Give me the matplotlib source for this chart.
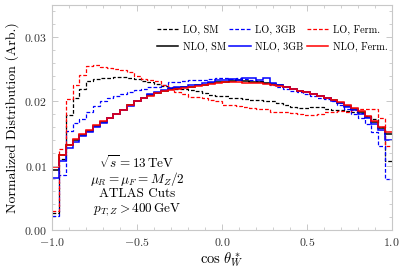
import numpy as np
import matplotlib
matplotlib.use("Agg")
import matplotlib.pyplot as plt
from matplotlib.ticker import MultipleLocator, FuncFormatter
from matplotlib.lines import Line2D

plt.rcParams['font.family'] = 'serif'
plt.rcParams['font.serif'] = ['cmr10']
plt.rcParams['mathtext.fontset'] = 'cm'
plt.rcParams['axes.formatter.use_mathtext'] = True

edges = np.linspace(-1.0, 1.0, 51)

lo_sm = [0.0026, 0.0110, 0.0179, 0.0205, 0.0220, 0.0232, 0.0235, 0.0236, 0.0237, 0.0238,
         0.0238, 0.0237, 0.0235, 0.0232, 0.0230, 0.0227, 0.0224, 0.0221, 0.0220, 0.0219,
         0.0218, 0.0216, 0.0213, 0.0210, 0.0208, 0.0208, 0.0206, 0.0205, 0.0204, 0.0203,
         0.0202, 0.0201, 0.0200, 0.0197, 0.0195, 0.0192, 0.0190, 0.0190, 0.0191, 0.0191,
         0.0189, 0.0187, 0.0186, 0.0185, 0.0184, 0.0182, 0.0178, 0.0172, 0.0160, 0.0108]

lo_3gb = [0.0021, 0.0085, 0.0154, 0.0166, 0.0173, 0.0184, 0.0193, 0.0200, 0.0205, 0.0208,
          0.0212, 0.0215, 0.0218, 0.0220, 0.0222, 0.0223, 0.0226, 0.0230, 0.0231, 0.0232,
          0.0233, 0.0233, 0.0234, 0.0235, 0.0236, 0.0236, 0.0235, 0.0236, 0.0235, 0.0234,
          0.0232, 0.0229, 0.0226, 0.0223, 0.0220, 0.0217, 0.0214, 0.0212, 0.0208, 0.0206,
          0.0204, 0.0200, 0.0195, 0.0189, 0.0180, 0.0174, 0.0165, 0.0153, 0.0131, 0.0079]

lo_ferm = [0.0030, 0.01255, 0.0204, 0.0226, 0.0241, 0.0255, 0.0256, 0.0254, 0.0252, 0.0250,
           0.0249, 0.0246, 0.0240, 0.0235, 0.0233, 0.0232, 0.0226, 0.0223, 0.0214, 0.0211,
           0.0207, 0.0207, 0.0206, 0.0202, 0.0200, 0.0195, 0.0194, 0.0193, 0.0192, 0.0190,
           0.0189, 0.0188, 0.0184, 0.0183, 0.0183, 0.0182, 0.0180, 0.0179, 0.0179, 0.0181,
           0.0184, 0.0184, 0.0185, 0.0184, 0.0186, 0.0188, 0.0188, 0.0188, 0.0174, 0.0131]

nlo_sm = [0.0093, 0.0116, 0.0132, 0.0140, 0.0148, 0.0154, 0.0162, 0.0168, 0.0175, 0.0181,
          0.0187, 0.0194, 0.0200, 0.0205, 0.0210, 0.0213, 0.0217, 0.0219, 0.0221, 0.0222,
          0.0223, 0.0225, 0.0226, 0.0228, 0.0230, 0.0231, 0.0232, 0.0233, 0.0232, 0.0231,
          0.0230, 0.0229, 0.0227, 0.0225, 0.0222, 0.0219, 0.0216, 0.0214, 0.0211, 0.0208,
          0.0205, 0.0202, 0.0198, 0.0193, 0.0188, 0.0183, 0.0176, 0.0168, 0.0159, 0.0149]

nlo_3gb = [0.0081, 0.0108, 0.0128, 0.0137, 0.0146, 0.0153, 0.0161, 0.0167, 0.0174, 0.0180,
           0.0186, 0.0193, 0.0200, 0.0206, 0.0211, 0.0214, 0.0218, 0.0221, 0.0223, 0.0223,
           0.0225, 0.0226, 0.0228, 0.0231, 0.0233, 0.0234, 0.0235, 0.0234, 0.0237, 0.0236,
           0.0233, 0.0236, 0.0228, 0.0226, 0.0223, 0.0219, 0.0216, 0.0214, 0.0211, 0.0208,
           0.0205, 0.0201, 0.0197, 0.0192, 0.0187, 0.0181, 0.0174, 0.0165, 0.0155, 0.0140]

nlo_ferm = [0.0098, 0.0117, 0.0133, 0.0141, 0.0149, 0.0155, 0.0163, 0.0169, 0.0175, 0.0181,
            0.0187, 0.0194, 0.0200, 0.0205, 0.0209, 0.0213, 0.0216, 0.0218, 0.0220, 0.0221,
            0.0222, 0.0224, 0.0225, 0.0227, 0.0229, 0.0230, 0.0230, 0.0230, 0.0229, 0.0229,
            0.0228, 0.0227, 0.0226, 0.0224, 0.0222, 0.0219, 0.0217, 0.0215, 0.0212, 0.0209,
            0.0206, 0.0203, 0.0199, 0.0195, 0.0190, 0.0185, 0.0178, 0.0170, 0.0161, 0.0152]

labels = ["LO, SM", "NLO, SM", "LO, 3GB", "NLO, 3GB", "LO, Ferm.", "NLO, Ferm."]
annot = [r"$\sqrt{s} = 13\,\mathrm{TeV}$", r"$\mu_R = \mu_F = M_Z/2$",
         "ATLAS Cuts", r"$p_{T,Z} > 400\,\mathrm{GeV}$"]

fig = plt.figure(figsize=(4.07, 2.71), dpi=100)
ax = fig.add_axes([0.1285, 0.1513, 0.8339, 0.8302])

dash = (0, (3.0, 1.6))
ax.stairs(lo_sm, edges, color='black', lw=0.9, ls=dash, baseline=None)
ax.stairs(lo_3gb, edges, color='#0000ff', lw=0.9, ls=dash, baseline=None)
ax.stairs(lo_ferm, edges, color='#ff0000', lw=0.9, ls=dash, baseline=None)
ax.stairs(nlo_sm, edges, color='black', lw=1.1, baseline=None)
ax.stairs(nlo_3gb, edges, color='#0000ff', lw=1.1, baseline=None)
ax.stairs(nlo_ferm, edges, color='#ff0000', lw=1.1, baseline=None)

handles = [Line2D([], [], color='black', lw=0.9, ls=dash),
           Line2D([], [], color='black', lw=1.1),
           Line2D([], [], color='#0000ff', lw=0.9, ls=dash),
           Line2D([], [], color='#0000ff', lw=1.1),
           Line2D([], [], color='#ff0000', lw=0.9, ls=dash),
           Line2D([], [], color='#ff0000', lw=1.1)]
ax.legend(handles, labels, ncol=3, loc='center', bbox_to_anchor=(0.648, 0.853),
          frameon=False, fontsize=7.3, handlelength=2.1, handletextpad=0.45,
          columnspacing=0.35, labelspacing=0.7)

ax.set_xlim(-1, 1)
ax.set_ylim(0, 0.035)
ax.xaxis.set_major_locator(MultipleLocator(0.5))
ax.xaxis.set_minor_locator(MultipleLocator(0.1))
ax.yaxis.set_major_locator(MultipleLocator(0.01))
ax.yaxis.set_minor_locator(MultipleLocator(0.002))
ax.xaxis.set_major_formatter(FuncFormatter(lambda v, p: f"${v:.1f}$"))
ax.yaxis.set_major_formatter(FuncFormatter(lambda v, p: f"${v:.2f}$"))
gray = '#c8c8c8'
for s in ax.spines.values():
    s.set_color(gray)
    s.set_linewidth(0.8)
ax.tick_params(which='both', direction='in', top=True, right=True, color=gray,
               labelcolor='#333333', labelsize=8.5)
ax.tick_params(which='major', length=4, width=0.7, pad=4)
ax.tick_params(which='minor', length=2, width=0.6)

ax.set_xlabel(r"$\cos\,\theta^*_W$", fontsize=10.5, labelpad=2)
ax.set_ylabel("Normalized Distribution (Arb.)", fontsize=10, labelpad=4)

ys = [0.298, 0.227, 0.16, 0.089]
for t, y in zip(annot, ys):
    ax.text(0.25, y, t, transform=ax.transAxes, ha='center', va='center', fontsize=9.5)

fig.savefig("out.png", dpi=100)
